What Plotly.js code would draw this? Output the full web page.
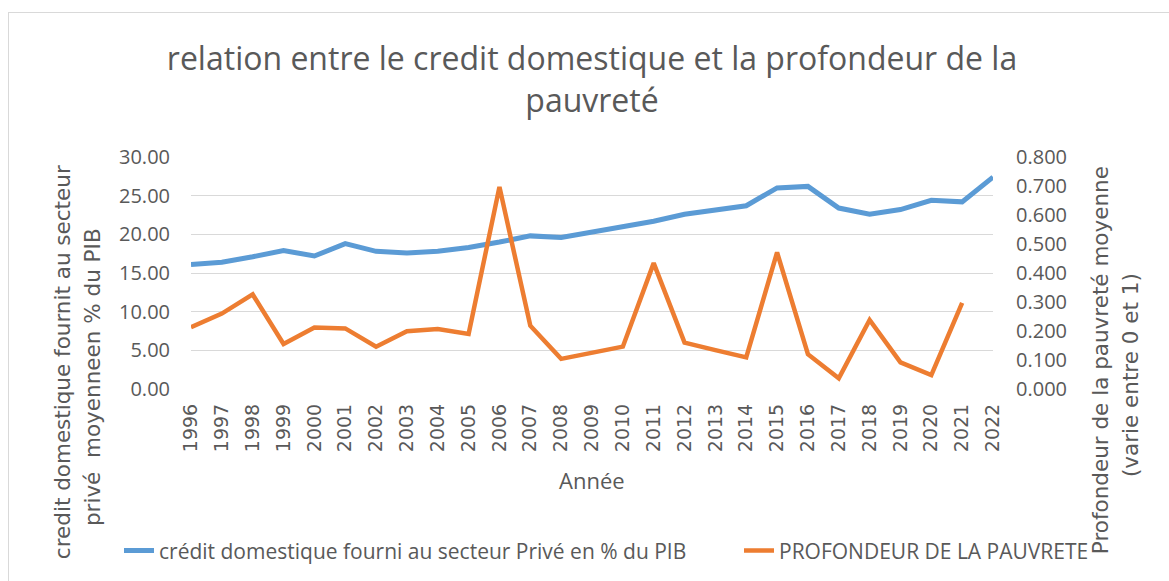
<!DOCTYPE html>
<html>
<head>
<meta charset="utf-8">
<script src="https://cdn.plot.ly/plotly-3.0.1.min.js"></script>
<style>
  html, body { margin: 0; padding: 0; background: #ffffff; }
  #frame { position: absolute; left: 8px; top: 12px; width: 1200px; height: 620px; border: 1px solid #d9d9d9; box-sizing: border-box; }
  #chart { position: absolute; left: 0; top: 0; width: 1169px; height: 581px; }
</style>
</head>
<body>
<div id="frame"></div>
<div id="chart"></div>
<script>
const years = ["1996","1997","1998","1999","2000","2001","2002","2003","2004","2005","2006","2007","2008","2009","2010","2011","2012","2013","2014","2015","2016","2017","2018","2019","2020","2021","2022"];
const creditPrive = [16.1,16.4,17.1,17.9,17.2,18.8,17.8,17.6,17.8,18.3,19.0,19.8,19.6,20.3,21.1,21.7,22.6,23.2,23.7,26.0,26.2,23.4,22.6,23.2,24.4,24.2,27.4];
const profondeurPauvrete = [0.213,0.260,0.326,0.155,0.212,0.209,0.146,0.199,0.207,0.190,0.697,0.218,0.104,0.125,0.146,0.434,0.160,0.134,0.109,0.471,0.120,0.037,0.238,0.092,0.048,0.297,null];

const serieCredit = "crédit domestique fourni au secteur Privé en % du PIB";
const seriePauvrete = "PROFONDEUR DE LA PAUVRETE";
const titreChart = "relation entre le credit domestique et la profondeur de la<br>pauvreté";
const titreX = "Année";
const titreY1a = "credit domestique fournit au secteur";
const titreY1b = "privé  moyenneen % du PIB";
const titreY2a = "Profondeur de la pauvreté moyenne";
const titreY2b = "(varie entre 0 et 1)";

const grey = "#595959";
const traces = [
  { x: years, y: creditPrive, name: serieCredit, type: "scatter", mode: "lines",
    line: { color: "#5b9bd5", width: 5 }, yaxis: "y", legend: "legend" },
  { x: years, y: profondeurPauvrete, name: seriePauvrete, type: "scatter", mode: "lines",
    line: { color: "#ed7d31", width: 4.5 }, yaxis: "y2", connectgaps: false, legend: "legend2" }
];

const plotH = 390 - 156.7;
function py(pix) { return (390 - pix) / plotH; }
function px(pix) { return (pix - 191) / 802; }

const legendFont = { family: "Open Sans", size: 21, color: grey };
const titleFont = { family: "DejaVu Sans", size: 21.5, color: grey };

const layout = {
  width: 1169, height: 581,
  margin: { l: 191, r: 176, t: 157, b: 191 },
  paper_bgcolor: "rgba(0,0,0,0)",
  plot_bgcolor: "rgba(0,0,0,0)",
  showlegend: true,
  title: { text: titreChart, x: 0.5, xref: "paper", xanchor: "center", y: 1 - 70/581, yanchor: "middle",
           font: { family: "Open Sans", size: 32, color: grey } },
  xaxis: { type: "category", tickangle: -90, showgrid: false, showline: false, zeroline: false,
           ticks: "", ticklabelstandoff: 10, automargin: false,
           tickfont: { family: "DejaVu Sans", size: 19, color: grey } },
  yaxis: { range: [0, 30], dtick: 5, tickformat: ".2f", showgrid: true, gridcolor: "#d9d9d9", gridwidth: 1,
           zeroline: false, showline: false, ticks: "", ticklabelstandoff: 20, automargin: false,
           tickfont: { family: "Open Sans", size: 20, color: grey } },
  yaxis2: { range: [0, 0.8], dtick: 0.1, tickformat: ".3f", overlaying: "y", side: "right", showgrid: false,
            zeroline: false, showline: false, ticks: "", ticklabelstandoff: 22, automargin: false,
            tickfont: { family: "Open Sans", size: 20, color: grey } },
  legend: { orientation: "h", x: px(119), xanchor: "left", y: py(551), yanchor: "middle",
            font: legendFont, bgcolor: "rgba(0,0,0,0)" },
  legend2: { orientation: "h", x: px(739), xanchor: "left", y: py(551), yanchor: "middle",
             font: legendFont, bgcolor: "rgba(0,0,0,0)" },
  annotations: [
    { text: titreX, xref: "paper", yref: "paper", x: 0.5, y: py(482), xanchor: "center", yanchor: "middle",
      showarrow: false, font: { family: "Open Sans", size: 22, color: grey } },
    { text: titreY1a, xref: "paper", yref: "paper", x: px(62), y: py(363), xanchor: "center", yanchor: "middle",
      textangle: -90, showarrow: false, font: titleFont },
    { text: titreY1b, xref: "paper", yref: "paper", x: px(92), y: py(378), xanchor: "center", yanchor: "middle",
      textangle: -90, showarrow: false, font: titleFont },
    { text: titreY2a, xref: "paper", yref: "paper", x: px(1100), y: py(361), xanchor: "center", yanchor: "middle",
      textangle: -90, showarrow: false, font: titleFont },
    { text: titreY2b, xref: "paper", yref: "paper", x: px(1130), y: py(376), xanchor: "center", yanchor: "middle",
      textangle: -90, showarrow: false, font: titleFont }
  ]
};

Plotly.newPlot("chart", traces, layout, { displayModeBar: false, staticPlot: true });
</script>
</body>
</html>
